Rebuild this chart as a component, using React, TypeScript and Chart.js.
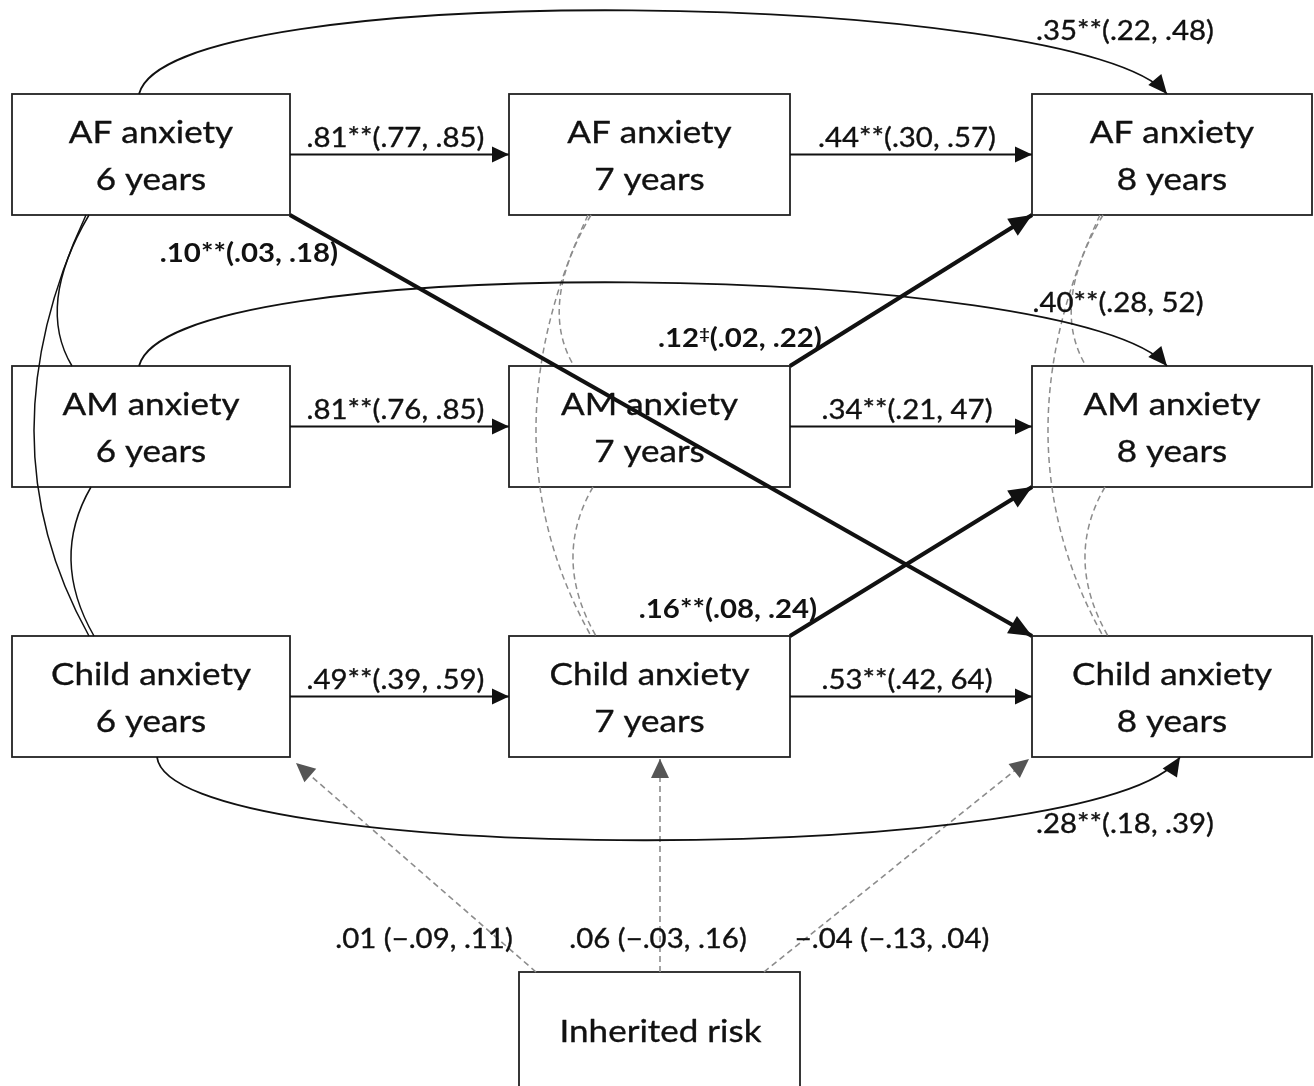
import React, { useEffect, useRef } from "react";
import { Chart, registerables } from "chart.js";

Chart.register(...registerables);

// ---------------- DATA ----------------
const constructs = ["AF anxiety", "AM anxiety", "Child anxiety"];
const waves = ["6 years", "7 years", "8 years"];
// autoregressive paths, one per construct
const pathsWave6to7 = [".81**(.77, .85)", ".81**(.76, .85)", ".49**(.39, .59)"];
const pathsWave7to8 = [".44**(.30, .57)", ".34**(.21, 47)", ".53**(.42, 64)"];
// lag-2 paths (6 -> 8 years)
const lag2Paths = [".35**(.22, .48)", ".40**(.28, 52)", ".28**(.18, .39)"];
// cross-lagged paths: [row, wave]
const crossFrom = [[0, 0], [1, 1], [2, 1]];
const crossTo = [[2, 2], [0, 2], [1, 2]];
const crossPaths = [".10**(.03, .18)", ".12‡(.02, .22)", ".16**(.08, .24)"];
// inherited risk -> child anxiety at each wave
const riskLabel = "Inherited risk";
const riskPaths = [".01 (−.09, .11)", ".06 (−.03, .16)", "−.04 (−.13, .04)"];

// ---------------- LAYOUT ----------------
const W = 1314;
const H = 1086;
const COL_LEFT = [12, 509, 1032];
const COL_W = [278, 281, 280];
const ROW_TOP = [94, 366, 636];
const BOX_H = 121;
const RISK_BOX = { l: 519, t: 972, w: 281, h: 140 };
const RISK_SRC_DX = [17, 141, 245];
const RISK_TIP_D = [[6, 6], [0, 2], [-3, 2]];
const CORR_X = [86, 588, 1100];
const CROSS_LABEL_POS = [[249, 262], [740, 347], [728, 618]];
const LAG2_LABEL_POS = [[1125, 40], [1118, 312], [1125, 833]];
const RISK_LABEL_POS = [[424, 948], [658, 948], [892, 948]];

const SX = 1.13; // horizontal text stretch of the reference
const FONT_FAMILY = "Lato, 'Open Sans', sans-serif";
const BOX_FONT = `31px ${FONT_FAMILY}`;
const LABEL_FONT = `26px ${FONT_FAMILY}`;
const BOLD_FONT = `bold 26px ${FONT_FAMILY}`;
const INK = "#111111";
const DASH_COLOR = "#8c8c8c";
const RISK_HEAD = "#555555";

function box(r: number, c: number) {
  const l = COL_LEFT[c];
  const t = ROW_TOP[r];
  const w = COL_W[c];
  return { l, t, r: l + w, b: t + BOX_H, cx: l + w / 2, cy: t + BOX_H / 2 };
}

function drawText(ctx: CanvasRenderingContext2D, text: string, x: number, y: number, font: string, align: "center" | "left" | "right" = "center") {
  ctx.save();
  ctx.font = font;
  ctx.fillStyle = INK;
  ctx.strokeStyle = INK;
  const strokeW = font.startsWith("bold") ? 0 : 0.35;
  ctx.lineWidth = strokeW;
  ctx.lineJoin = "round";
  ctx.setLineDash([]);
  ctx.textBaseline = "alphabetic";
  ctx.textAlign = "left";
  const parts = text.split("‡");
  const supFont = font.replace(/([\d.]+)px/, (_m, s) => `${Math.round(parseFloat(s) * 0.62)}px`);
  let total = 0;
  const widths: number[] = [];
  parts.forEach((p, i) => {
    ctx.font = font;
    const w = ctx.measureText(p).width;
    widths.push(w);
    total += w;
    if (i < parts.length - 1) {
      ctx.font = supFont;
      total += ctx.measureText("‡").width;
    }
  });
  ctx.translate(x, y);
  ctx.scale(SX, 1);
  let cur = align === "center" ? -total / 2 : align === "right" ? -total : 0;
  parts.forEach((p, i) => {
    ctx.font = font;
    ctx.fillText(p, cur, 0);
    if (strokeW > 0) ctx.strokeText(p, cur, 0);
    cur += widths[i];
    if (i < parts.length - 1) {
      ctx.font = supFont;
      ctx.fillText("‡", cur, -8);
      cur += ctx.measureText("‡").width;
    }
  });
  ctx.restore();
}

function arrowHead(ctx: CanvasRenderingContext2D, tx: number, ty: number, dx: number, dy: number, len: number, half: number, color: string) {
  const d = Math.hypot(dx, dy) || 1;
  const ux = dx / d;
  const uy = dy / d;
  const bx = tx - ux * len;
  const by = ty - uy * len;
  ctx.save();
  ctx.setLineDash([]);
  ctx.beginPath();
  ctx.moveTo(tx, ty);
  ctx.lineTo(bx - uy * half, by + ux * half);
  ctx.lineTo(bx + uy * half, by - ux * half);
  ctx.closePath();
  ctx.fillStyle = color;
  ctx.fill();
  ctx.restore();
}

// ---------------- STRAIGHT PATHS (datasets) ----------------
type Pt = { x: number; y: number };
function makeDatasets() {
  const ds: any[] = [];
  const plain = (from: Pt, to: Pt) => ({
    data: [from, to], showLine: true, borderColor: INK, borderWidth: 2, pointRadius: 0,
    pointHoverRadius: 0, tension: 0, clip: false, arrow: { len: 17, half: 8, color: INK },
  });
  [pathsWave6to7, pathsWave7to8].forEach((_labels, g) => {
    constructs.forEach((_c, r) => {
      const a = box(r, g);
      const b = box(r, g + 1);
      ds.push(plain({ x: a.r, y: a.cy }, { x: b.l, y: b.cy }));
    });
  });
  crossPaths.forEach((_l, i) => {
    const a = box(crossFrom[i][0], crossFrom[i][1]);
    const b = box(crossTo[i][0], crossTo[i][1]);
    const down = crossTo[i][0] > crossFrom[i][0];
    const from = { x: a.r, y: down ? a.b : a.t };
    const to = { x: b.l, y: down ? b.t : b.b };
    ds.push({
      data: [from, to], showLine: true, borderColor: INK, borderWidth: 4.2, pointRadius: 0,
      pointHoverRadius: 0, tension: 0, clip: false, arrow: { len: 23, half: 10, color: INK },
    });
  });
  riskPaths.forEach((_l, i) => {
    const from = { x: RISK_BOX.l + RISK_SRC_DX[i], y: RISK_BOX.t };
    const cb = box(2, i);
    let to: Pt;
    if (i === 0) to = { x: cb.r + RISK_TIP_D[0][0], y: cb.b + RISK_TIP_D[0][1] };
    else if (i === 1) to = { x: from.x + RISK_TIP_D[1][0], y: cb.b + RISK_TIP_D[1][1] };
    else to = { x: cb.l + RISK_TIP_D[2][0], y: cb.b + RISK_TIP_D[2][1] };
    ds.push({
      data: [from, to], showLine: true, borderColor: DASH_COLOR, borderWidth: 1.6, borderDash: [6, 4],
      pointRadius: 0, pointHoverRadius: 0, tension: 0, clip: false, arrow: { len: 19, half: 9, color: RISK_HEAD },
    });
  });
  return ds;
}

// ---------------- PLUGIN: boxes, curves, labels ----------------
const diagramPlugin = {
  id: "pathDiagram",
  beforeDraw(chart: any) {
    const ctx: CanvasRenderingContext2D = chart.ctx;
    ctx.save();
    ctx.fillStyle = "#ffffff";
    ctx.fillRect(0, 0, chart.width, chart.height);
    ctx.restore();
  },
  beforeDatasetsDraw(chart: any) {
    const ctx: CanvasRenderingContext2D = chart.ctx;
    const X = (v: number) => chart.scales.x.getPixelForValue(v);
    const Y = (v: number) => chart.scales.y.getPixelForValue(v);
    ctx.save();
    ctx.strokeStyle = "#222";
    ctx.lineWidth = 1.8;
    constructs.forEach((name, r) => {
      waves.forEach((wave, c) => {
        const b = box(r, c);
        ctx.strokeStyle = "#222";
        ctx.lineWidth = 1.8;
        ctx.strokeRect(X(b.l), Y(b.t), X(b.r) - X(b.l), Y(b.b) - Y(b.t));
        drawText(ctx, name, X(b.cx), Y(b.t + 49), BOX_FONT);
        drawText(ctx, wave, X(b.cx), Y(b.t + 96), BOX_FONT);
      });
    });
    ctx.strokeStyle = "#222";
    ctx.lineWidth = 1.8;
    ctx.strokeRect(X(RISK_BOX.l), Y(RISK_BOX.t), X(RISK_BOX.l + RISK_BOX.w) - X(RISK_BOX.l), Y(RISK_BOX.t + RISK_BOX.h) - Y(RISK_BOX.t));
    drawText(ctx, riskLabel, X(RISK_BOX.l + RISK_BOX.w / 2 + 1), Y(RISK_BOX.t + 70), BOX_FONT);
    ctx.restore();

    // residual correlations (quadratic arcs)
    const quad = (p0: Pt, bulge: Pt, p2: Pt) => {
      const c = { x: 2 * bulge.x - 0.5 * (p0.x + p2.x), y: 2 * bulge.y - 0.5 * (p0.y + p2.y) };
      ctx.beginPath();
      ctx.moveTo(X(p0.x), Y(p0.y));
      ctx.quadraticCurveTo(X(c.x), Y(c.y), X(p2.x), Y(p2.y));
      ctx.stroke();
    };
    waves.forEach((_w, c) => {
      const cx = CORR_X[c];
      const af = box(0, c);
      const am = box(1, c);
      const ch = box(2, c);
      ctx.save();
      if (c === 0) {
        ctx.strokeStyle = INK;
        ctx.lineWidth = 1.5;
        ctx.setLineDash([]);
      } else {
        ctx.strokeStyle = DASH_COLOR;
        ctx.lineWidth = 1.5;
        ctx.setLineDash([6, 4]);
      }
      quad({ x: cx, y: af.b }, { x: cx - 52, y: (af.b + ch.t) / 2 + 8 }, { x: cx + 3, y: ch.t });
      quad({ x: cx + 3, y: af.b }, { x: cx - 28, y: 298 }, { x: cx - 14, y: am.t });
      quad({ x: cx + 5, y: am.b }, { x: cx - 15, y: 560 }, { x: cx + 8, y: ch.t });
      ctx.restore();
    });
  },
  afterDatasetsDraw(chart: any) {
    const ctx: CanvasRenderingContext2D = chart.ctx;
    const X = (v: number) => chart.scales.x.getPixelForValue(v);
    const Y = (v: number) => chart.scales.y.getPixelForValue(v);

    // arrowheads of straight paths
    chart.data.datasets.forEach((d: any, i: number) => {
      const meta = chart.getDatasetMeta(i);
      if (!d.arrow || meta.data.length < 2) return;
      const p0 = meta.data[0];
      const p1 = meta.data[1];
      arrowHead(ctx, p1.x, p1.y, p1.x - p0.x, p1.y - p0.y, d.arrow.len, d.arrow.half, d.arrow.color);
    });

    // lag-2 curved paths
    lag2Paths.forEach((_l, r) => {
      const a = box(r, 0);
      const b = box(r, 2);
      let p0: Pt, p1: Pt, p2: Pt, p3: Pt;
      if (r < 2) {
        p0 = { x: a.l + 127, y: a.t };
        p3 = { x: b.l + 135, y: b.t };
        p1 = { x: p0.x + 31, y: a.t - 119 };
        p2 = { x: p3.x - 87, y: b.t - 104 };
      } else {
        p0 = { x: a.l + 145, y: a.b };
        p3 = { x: b.l + 148, y: b.b };
        p1 = { x: p0.x + 13, y: a.b + 112 };
        p2 = { x: p3.x - 70, y: b.b + 110 };
      }
      ctx.save();
      ctx.strokeStyle = INK;
      ctx.lineWidth = 1.8;
      ctx.beginPath();
      ctx.moveTo(X(p0.x), Y(p0.y));
      ctx.bezierCurveTo(X(p1.x), Y(p1.y), X(p2.x), Y(p2.y), X(p3.x), Y(p3.y));
      ctx.stroke();
      ctx.restore();
      const dir = { x: X(p3.x) - X(p2.x), y: Y(p3.y) - Y(p2.y) };
      arrowHead(ctx, X(p3.x), Y(p3.y), dir.x, dir.y, 19, 8.5, INK);
    });

    // path labels
    constructs.forEach((_c, r) => {
      [pathsWave6to7, pathsWave7to8].forEach((labels, g) => {
        const a = box(r, g);
        const b = box(r, g + 1);
        drawText(ctx, labels[r], X((a.r + b.l) / 2 - 4), Y(a.cy - 8), LABEL_FONT);
      });
    });
    crossPaths.forEach((l, i) => drawText(ctx, l, X(CROSS_LABEL_POS[i][0]), Y(CROSS_LABEL_POS[i][1]), BOLD_FONT));
    lag2Paths.forEach((l, i) => drawText(ctx, l, X(LAG2_LABEL_POS[i][0]), Y(LAG2_LABEL_POS[i][1]), LABEL_FONT));
    riskPaths.forEach((l, i) => drawText(ctx, l, X(RISK_LABEL_POS[i][0]), Y(RISK_LABEL_POS[i][1]), LABEL_FONT));
  },
};

export default function App() {
  const canvasRef = useRef<HTMLCanvasElement | null>(null);
  useEffect(() => {
    document.body.style.margin = "0";
    document.body.style.overflow = "hidden";
    const canvas = canvasRef.current;
    if (!canvas) return;
    const chart = new Chart(canvas, {
      type: "scatter",
      data: { datasets: makeDatasets() },
      options: {
        animation: false,
        responsive: false,
        devicePixelRatio: 1,
        layout: { padding: 0 },
        events: [],
        scales: {
          x: { type: "linear", min: 0, max: W, display: false },
          y: { type: "linear", min: 0, max: H, reverse: true, display: false },
        },
        plugins: { legend: { display: false }, tooltip: { enabled: false }, title: { display: false } },
      } as any,
      plugins: [diagramPlugin as any],
    });
    let alive = true;
    if ((document as any).fonts) {
      Promise.all([
        (document as any).fonts.load(BOX_FONT),
        (document as any).fonts.load(BOLD_FONT),
      ]).then(() => {
        if (alive) chart.draw();
      }).catch(() => {});
    }
    return () => {
      alive = false;
      chart.destroy();
    };
  }, []);
  return (
    <div style={{ position: "fixed", left: 0, top: 0, width: W, height: H, background: "#fff" }}>
      <canvas ref={canvasRef} width={W} height={H} style={{ display: "block", width: W, height: H }} />
    </div>
  );
}
